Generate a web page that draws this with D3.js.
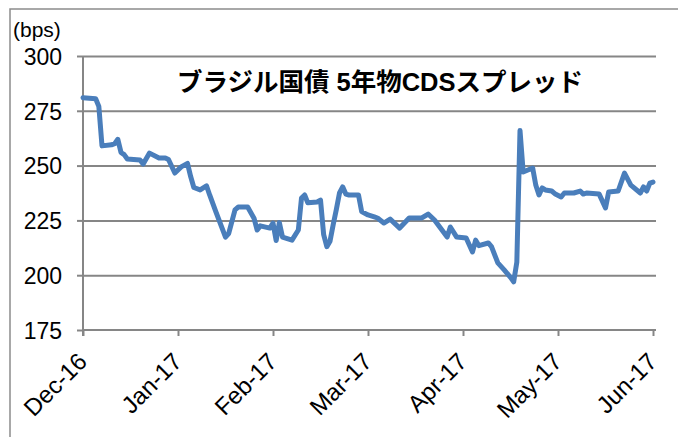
<!DOCTYPE html>
<html>
<head>
<meta charset="utf-8">
<script src="https://cdn.jsdelivr.net/npm/d3@7"></script>
<style>
  html, body { margin: 0; padding: 0; background: #ffffff; }
  svg { display: block; }
</style>
</head>
<body>
<svg id="chart" width="678" height="437"></svg>
<script>
// ---- data ----
const dayIndex = [0,4,5,6,9,10,11,12,13,14,18,19,21,24,26,27,29,31,33,34,35,37,39,40,42,45,46,48,49,52,54,55,56,59,60,61,62,63,66,68,69,70,71,74,75,76,77,78,79,80,81,82,83,84,87,88,90,92,93,95,97,100,103,107,109,111,115,116,118,121,123,124,125,128,129,131,133,135,136,137,138,139,142,143,144,145,146,148,149,151,152,155,157,158,159,163,165,166,169,171,173,176,177,178,179,180];
const spread = [281,280.5,277,259,259.5,260,262,256,255,253,252.6,250.7,255.7,253.5,253.5,252.8,246.6,249.4,251,245,240,238.9,240.8,236.6,228.8,217.4,219,229.8,231.1,231.1,226,220.6,222.5,221.5,223.8,215.8,224,217.4,216,220.6,235.2,236.6,233,233.4,234.3,218.5,213,215.5,223,230,237.5,240.3,237,236.6,236.6,229,227.5,226.6,226.1,223.8,225.6,221.5,226.1,226.1,227.9,225.2,217.4,222,217.4,217,210.6,216,213.5,214.7,213,205.6,202.4,199,197,206,266,247.1,248.9,241,236.6,239.8,238.9,238.4,237.2,235.7,237.5,237.5,238.4,237,237.5,237,230.7,238,238.4,246.6,241.1,237.5,240.3,238.4,242,242.5];
const yTicks = [175, 200, 225, 250, 275, 300];
const xTickDays = [0, 30, 60, 90, 120, 150, 180];
const xTickLabels = ["Dec-16", "Jan-17", "Feb-17", "Mar-17", "Apr-17", "May-17", "Jun-17"];
const titleText = "ブラジル国債 5年物CDSスプレッド";
const unitText = "(bps)";

// ---- layout ----
const svg = d3.select("#chart");
const plot = { left: 83, right: 653, top: 56, bottom: 330, gridRight: 656 };
const gray = "#868686";
const fontLatin = "'Liberation Sans', Arial, 'Noto Sans CJK JP', sans-serif";

const x = d3.scaleLinear().domain([0, 180]).range([plot.left, plot.right]);
const y = d3.scaleLinear().domain([175, 300]).range([plot.bottom, plot.top]);

// chart frame
svg.append("rect")
  .attr("x", 10).attr("y", 9)
  .attr("width", 700).attr("height", 460)
  .attr("fill", "none").attr("stroke", "#8c8c8c").attr("stroke-width", 1.5);

// gridlines
const grid = svg.append("g").attr("transform", `translate(${plot.left},0)`)
  .call(d3.axisRight(y).tickValues(yTicks.filter(v => v !== 175)).tickSize(plot.gridRight - plot.left).tickFormat(""));
grid.select(".domain").remove();
grid.selectAll("line").attr("stroke", gray).attr("stroke-width", 2);

// y axis
const yAxis = svg.append("g").attr("transform", `translate(${plot.left},0)`)
  .call(d3.axisLeft(y).tickValues(yTicks).tickSize(6).tickPadding(15).tickSizeOuter(0));
yAxis.select(".domain").attr("stroke", gray).attr("stroke-width", 2)
  .attr("d", `M0,${plot.top}V${plot.bottom + 6}`);
yAxis.selectAll("line").attr("stroke", gray).attr("stroke-width", 2);
yAxis.selectAll("text").attr("font-family", fontLatin).attr("font-size", 23).attr("fill", "#000")
  .attr("dy", "0.36em");

// x axis
const xAxis = svg.append("g").attr("transform", `translate(0,${plot.bottom})`)
  .call(d3.axisBottom(x).tickValues(xTickDays).tickSize(6).tickSizeOuter(0)
    .tickFormat((d, i) => xTickLabels[i]));
xAxis.select(".domain").attr("stroke", gray).attr("stroke-width", 2)
  .attr("d", `M${plot.left},0H${plot.gridRight}`);
xAxis.selectAll("line").attr("stroke", gray).attr("stroke-width", 2);
xAxis.selectAll("text")
  .attr("font-family", fontLatin).attr("font-size", 24).attr("fill", "#000")
  .attr("text-anchor", "end")
  .attr("y", 0).attr("dy", 0)
  .attr("transform", "translate(5,33) rotate(-45)");

// series line
const line = d3.line()
  .x((d, i) => x(dayIndex[i]))
  .y(d => y(d));
svg.append("path")
  .datum(spread)
  .attr("d", line)
  .attr("fill", "none")
  .attr("stroke", "#4a7ebb")
  .attr("stroke-width", 5)
  .attr("stroke-linejoin", "round")
  .attr("stroke-linecap", "round");

// unit label
svg.append("text")
  .attr("x", 13).attr("y", 37)
  .attr("font-family", fontLatin).attr("font-size", 21)
  .text(unitText);

// title
svg.append("text")
  .attr("x", 380).attr("y", 91)
  .attr("text-anchor", "middle")
  .attr("font-family", "'Liberation Sans', 'Noto Sans CJK JP', sans-serif")
  .attr("font-weight", "bold").attr("font-size", 25.5)
  .text(titleText);
</script>
</body>
</html>
